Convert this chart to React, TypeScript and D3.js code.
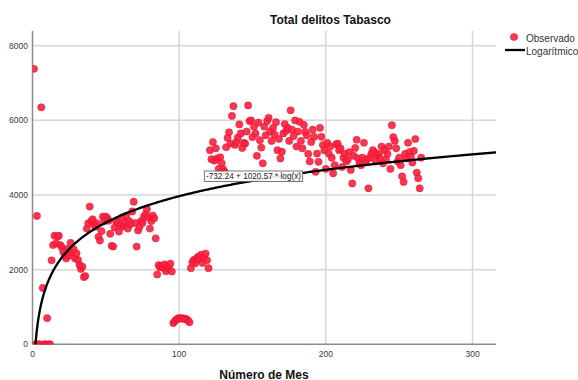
import React from 'react';
import * as d3 from 'd3';

const title = 'Total delitos Tabasco';
const xLabel = 'Número de Mes';
const xTicks = [0, 100, 200, 300];
const yTicks = [0, 2000, 4000, 6000, 8000];
const legendLabels = ['Observado', 'Logarítmico'];
const fitA = -732.24;
const fitB = 1020.57;
const equation = '-732.24 + 1020.57 * log(x)';

// observed value for month 1..265
const observed = [
  // 1-12
  7380, 0, 3440, 0, 0, 6350, 1510, 0, 0, 700, 0, 0,
  // 13-36
  2250, 2660, 2910, 2700, 2880, 2910, 2660, 2600, 2480, 2370, 2300, 2560,
  2380, 2720, 2460, 2550, 2300, 2440, 2260, 2130, 2020, 2080, 1800, 1830,
  // 37-84
  3100, 3240, 3690, 3300, 3350, 3200, 3150, 3240, 2880, 2780, 3030, 3420,
  3300, 3420, 3380, 3310, 2960, 2640, 2620, 3130, 3300, 3250, 3020, 3180,
  3400, 3160, 3260, 3450, 3100, 3300, 3220, 3560, 3820, 3250, 2620, 3050,
  3150, 3300, 3250, 3420, 3480, 3620, 3400, 3100, 3300, 3450, 3380, 2840,
  // 85-95
  1870, 2120, 2060, 2100, 2050, 2140, 1960, 2080, 2020, 2160, 1950,
  // 96-107
  570, 620, 660, 690, 700, 690, 700, 680, 690, 670, 640, 590,
  // 108-120
  2040, 2200, 2260, 2170, 2300, 2350, 2280, 2400, 2180, 2320, 2430, 2250, 2040,
  // 121-265
  5200, 4960, 5420, 4920, 5250, 4980, 4700, 5010, 4850, 4690, 4620, 5280,
  5530, 5680, 5380, 6120, 6380, 5340, 5420, 5540, 5890, 5650, 5260, 5400,
  5380, 5700, 6400, 5980, 6000, 5550, 5830, 5650, 5050, 5940, 5470, 5270,
  4850, 5830, 5600, 5980, 6070, 5700, 5450, 5800, 5620, 5950, 5200, 5500,
  4980, 5160, 5650, 5900, 5720, 5800, 5450, 6270, 5750, 5580, 6000, 5300,
  5700, 5960, 5450, 5250, 5880, 5690, 5600, 5100, 4900, 5420, 5750, 5560,
  4620, 5110, 4890, 5800, 5560, 5340, 5200, 4700, 5400, 5110, 5300, 5000,
  4580, 4800, 5360, 5380, 5200, 5250, 4750, 5000, 5100, 4900, 4950, 5150,
  4670, 4310, 5050, 5260, 5480, 4980, 4850, 4800, 5000, 5400, 4900, 4950,
  4180, 5000, 5100, 5200, 5150, 4900, 5050, 5100, 4980, 5300, 4850, 5200,
  4950, 5100, 5300, 4700, 5870, 5550, 5450, 5250, 4900, 5000, 4800, 4500,
  4350, 5100, 4980, 5400, 5150, 5020, 4870, 5180, 5500, 4600, 4450, 4180,
  5000,
];

const FONT = '"Liberation Sans", Arial, sans-serif';
const RED = '#f9203e';

export default function App() {
  const W = 578;
  const H = 380;
  const left = 32.5, right = 496, top = 31, bottom = 344.3;
  const x = d3.scaleLinear().domain([0, 316]).range([left, right]);
  const y = d3.scaleLinear().domain([0, 8394]).range([bottom, top]);

  const fitPts: [number, number][] = [];
  for (let t = 1; t <= 316; t += t < 20 ? 0.1 : 1) fitPts.push([t, fitA + fitB * Math.log(t)]);
  fitPts.push([316, fitA + fitB * Math.log(316)]);
  const line = d3.line<[number, number]>().x(d => x(d[0])).y(d => y(d[1])).curve(d3.curveLinear);

  const pts = observed.map((v, i) => ({ m: i + 1, v }));

  return (
    <svg width={W} height={H} style={{ position: 'absolute', left: 0, top: 0, background: '#fff' }} fontFamily={FONT}>
      <defs>
        <clipPath id="plotclip">
          <rect x={left} y={top} width={right - left} height={bottom - top} />
        </clipPath>
      </defs>
      <rect x={0} y={0} width={W} height={H} fill="#fff" />
      {/* grid */}
      {yTicks.filter(t => t > 0).map(t => (
        <line key={'gy' + t} x1={left} x2={right} y1={y(t)} y2={y(t)} stroke="#d6d6d6" strokeWidth={1.5} />
      ))}
      {xTicks.filter(t => t > 0).map(t => (
        <line key={'gx' + t} x1={x(t)} x2={x(t)} y1={top} y2={bottom} stroke="#d6d6d6" strokeWidth={1.5} />
      ))}
      {/* axes */}
      <line x1={left} x2={left} y1={top} y2={bottom} stroke="#8c8c8c" strokeWidth={1.5} />
      <line x1={left} x2={right} y1={bottom} y2={bottom} stroke="#8c8c8c" strokeWidth={1.5} />
      {yTicks.map(t => (
        <text key={'ty' + t} x={28} y={y(t) + 3} textAnchor="end" fontSize={8.5} fill="#3a3a3a">{t}</text>
      ))}
      {xTicks.map(t => (
        <text key={'tx' + t} x={x(t)} y={357} textAnchor="middle" fontSize={8.5} fill="#3a3a3a">{t}</text>
      ))}
      {/* points */}
      <g clipPath="url(#plotclip)">
        {pts.map(p => (
          <circle key={p.m} cx={x(p.m)} cy={y(p.v)} r={3.6} fill={RED} fillOpacity={0.9} stroke="#e0122e" strokeWidth={0.5} />
        ))}
        <path d={line(fitPts) || ''} fill="none" stroke="#000" strokeWidth={2.3} />
      </g>
      {/* equation label */}
      <rect x={204.3} y={171} width={98.4} height={10.5} fill="#fff" fillOpacity={0.9} stroke="#555" strokeWidth={0.8} />
      <text x={253.5} y={179.4} textAnchor="middle" fontSize={8.5} textLength={95} lengthAdjust="spacingAndGlyphs" fill="#222">{equation}</text>
      {/* title */}
      <text x={330.5} y={24} textAnchor="middle" fontSize={12} fontWeight="bold" fill="#111">{title}</text>
      {/* x label */}
      <text x={264} y={378.5} textAnchor="middle" fontSize={12} fontWeight="bold" fill="#111">{xLabel}</text>
      {/* legend */}
      <circle cx={514} cy={37} r={3.6} fill={RED} fillOpacity={0.9} stroke="#e0122e" strokeWidth={0.5} />
      <text x={526} y={41.5} fontSize={10} fill="#333">{legendLabels[0]}</text>
      <line x1={505} x2={525} y1={50} y2={50} stroke="#000" strokeWidth={2.3} />
      <text x={526} y={54.5} fontSize={10} fill="#333">{legendLabels[1]}</text>
    </svg>
  );
}
